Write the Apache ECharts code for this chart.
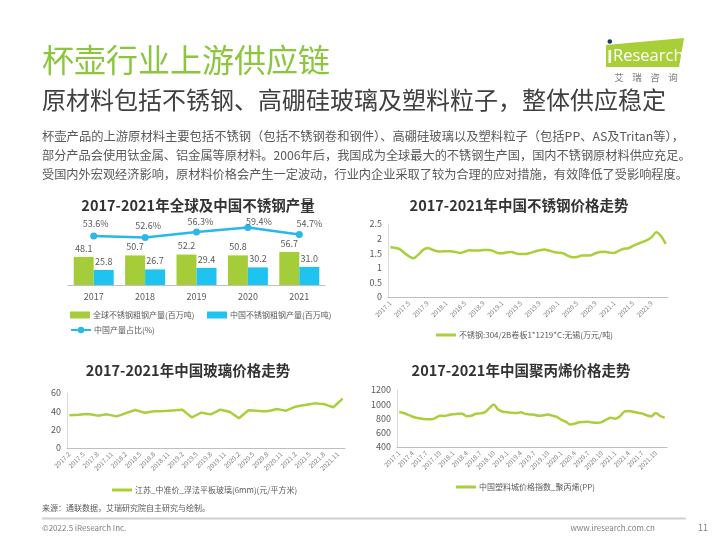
<!DOCTYPE html>
<html><head><meta charset="utf-8">
<script src="https://cdn.jsdelivr.net/npm/echarts@6/dist/echarts.min.js"></script>
<style>html,body{margin:0;padding:0;background:#fff}#c{width:720px;height:540px}</style>
</head><body><div id="c"></div>
<script>
// ---- data ----
const years = ['2017','2018','2019','2020','2021'];
const globalOutput = [48.1, 50.7, 52.2, 50.8, 56.7];
const chinaOutput = [25.8, 26.7, 29.4, 30.2, 31.0];
const chinaShare = [53.6, 52.6, 56.3, 59.4, 54.7];

const monthCats = [
 '2017.1','2017.2','2017.3','2017.4','2017.5','2017.6','2017.7','2017.8','2017.9','2017.10','2017.11','2017.12',
 '2018.1','2018.2','2018.3','2018.4','2018.5','2018.6','2018.7','2018.8','2018.9','2018.10','2018.11','2018.12',
 '2019.1','2019.2','2019.3','2019.4','2019.5','2019.6','2019.7','2019.8','2019.9','2019.10','2019.11','2019.12',
 '2020.1','2020.2','2020.3','2020.4','2020.5','2020.6','2020.7','2020.8','2020.9','2020.10','2020.11','2020.12',
 '2021.1','2021.2','2021.3','2021.4','2021.5','2021.6','2021.7','2021.8','2021.9','2021.10','2021.11','2021.12'
];
const glassCats = monthCats.slice(1);

const steelPrice = [
 1.70,1.68,1.64,1.51,1.39,1.33,1.45,1.61,1.68,1.62,
 1.57,1.56,1.57,1.57,1.54,1.51,1.56,1.60,1.59,1.59,
 1.61,1.61,1.58,1.51,1.50,1.53,1.54,1.49,1.47,1.47,
 1.51,1.56,1.60,1.63,1.59,1.54,1.52,1.50,1.42,1.36,
 1.37,1.42,1.42,1.43,1.50,1.54,1.55,1.52,1.51,1.59,
 1.65,1.67,1.75,1.82,1.88,1.95,2.05,2.22,2.09,1.82
];
const glassPrice = [
 35.6,36.0,36.4,36.9,37.1,36.2,35.3,36.0,36.7,35.6,
 34.5,36.2,38.0,39.8,41.5,40.0,38.5,39.3,40.0,40.1,
 40.3,40.6,41.0,41.4,41.8,37.5,33.3,36.0,38.6,37.6,
 36.7,39.2,41.8,40.7,39.6,36.0,32.4,36.8,41.1,40.8,
 40.5,40.2,40.0,41.2,42.5,41.6,40.7,42.9,45.1,46.0,
 46.9,47.8,48.7,48.3,48.0,46.2,44.4,49.1,53.8
];
const ppIndex = [
 892,878,850,825,806,796,790,788,806,840,
 836,850,860,866,866,832,838,866,872,885,
 945,995,925,895,888,880,876,886,865,856,
 852,838,846,856,840,822,785,755,715,728,
 748,752,753,745,742,750,785,810,798,828,
 895,905,894,880,868,845,830,878,835,812
];

// ---- styles ----
const FONT = '"Noto Sans CJK SC","Noto Sans",sans-serif';
const GREEN = '#A5CD39';
const BLUE = '#1FC3EF';
const CYAN = '#2BB7E9';
const LINEG = '#A9CF3A';
const AX = '#BFBFBF';
const TXT = '#595959';
const shareLabelOffsets = [[2,0],[3,0],[4,2],[11,6],[10,1]];

const chart = echarts.init(document.getElementById('c'));

function lineX(gi, cats, interval){
  return {type:'category', gridIndex:gi, data:cats, boundaryGap:true,
    axisLine:{lineStyle:{color:AX}}, axisTick:{show:false},
    axisLabel:{rotate:45, fontSize:6.5, color:'#7F7F7F', interval:interval, margin:5, fontFamily:FONT}};
}
function lineY(gi, min, max, itv){
  return {type:'value', gridIndex:gi, min:min, max:max, interval:itv,
    axisLine:{show:true, lineStyle:{color:'#D9D9D9'}}, axisTick:{show:false}, splitLine:{show:false},
    axisLabel:{fontSize:9, color:TXT, margin:6, fontFamily:FONT, formatter:v=>String(v)}};
}
function txt(x,y,t,size,fill,extra){
  return {type:'text', x:x, y:y, style:Object.assign({text:t, fontSize:size, fill:fill, fontFamily:FONT, textVerticalAlign:'middle'}, extra||{})};
}
function legendAt(left, top, name, icon, w, h){
  const l = {left:left, top:top, data:[name], itemWidth:w, itemHeight:h, itemGap:0,
    textStyle:{fontSize:8, color:TXT, fontFamily:FONT, padding:[0,0,0,-2]}, padding:0, selectedMode:false};
  if (icon) l.icon = icon;
  return l;
}

const option = {
  animation:false,
  textStyle:{fontFamily:FONT},
  grid:[
    {left:68, right:395, top:215, bottom:255},
    {left:388, right:52, top:224, bottom:243},
    {left:67, right:375, top:393, bottom:92},
    {left:397, right:53, top:390, bottom:93}
  ],
  legend:[
    legendAt(70, 311, '全球不锈钢粗钢产量(百万吨)', 'rect', 20, 7),
    legendAt(207, 311, '中国不锈钢粗钢产量(百万吨)', 'rect', 20, 7),
    legendAt(70, 326, '中国产量占比(%)', null, 20, 8),
    legendAt(436, 331, '不锈钢:304/2B卷板1*1219*C:无锡(万元/吨)', 'rect', 20, 3),
    legendAt(112, 486, '江苏_中准价_浮法平板玻璃(6mm)(元/平方米)', 'rect', 20, 3),
    legendAt(456, 483, '中国塑料城价格指数_聚丙烯(PP)', 'rect', 20, 3)
  ],
  xAxis:[
    {type:'category', gridIndex:0, data:years, axisLine:{lineStyle:{color:AX}}, axisTick:{show:false},
      axisLabel:{fontSize:9, color:TXT, margin:7, fontFamily:FONT}},
    lineX(1, monthCats, 3),
    lineX(2, glassCats, 2),
    lineX(3, monthCats, 2)
  ],
  yAxis:[
    {type:'value', gridIndex:0, min:0, max:120, show:false, splitLine:{show:false}},
    {type:'value', gridIndex:0, min:20, max:68, show:false, splitLine:{show:false}},
    lineY(1, 0, 2.5, 0.5),
    lineY(2, 0, 60, 20),
    lineY(3, 400, 1200, 200)
  ],
  series:[
    {name:'全球不锈钢粗钢产量(百万吨)', type:'bar', xAxisIndex:0, yAxisIndex:0, data:globalOutput,
      barWidth:20, barGap:'0%', itemStyle:{color:GREEN},
      label:{show:true, position:'top', fontSize:9, color:TXT, distance:4}},
    {name:'中国不锈钢粗钢产量(百万吨)', type:'bar', xAxisIndex:0, yAxisIndex:0, data:chinaOutput,
      barWidth:20, barGap:'0%', itemStyle:{color:BLUE},
      label:{show:true, position:'top', fontSize:9, color:TXT, distance:4, formatter:p=>p.value.toFixed(1)}},
    {name:'中国产量占比(%)', type:'line', xAxisIndex:0, yAxisIndex:1,
      data:chinaShare.map((v,i)=>({value:v, label:{offset:shareLabelOffsets[i]}})),
      symbol:'circle', symbolSize:7, lineStyle:{color:CYAN, width:2.5}, itemStyle:{color:CYAN},
      label:{show:true, position:'top', fontSize:9, color:TXT, distance:4, formatter:'{c}%'}},
    {name:'不锈钢:304/2B卷板1*1219*C:无锡(万元/吨)', type:'line', xAxisIndex:1, yAxisIndex:2, data:steelPrice,
      symbol:'none', smooth:0.3, lineStyle:{color:LINEG, width:2.5}, itemStyle:{color:LINEG}},
    {name:'江苏_中准价_浮法平板玻璃(6mm)(元/平方米)', type:'line', xAxisIndex:2, yAxisIndex:3, data:glassPrice,
      symbol:'none', lineStyle:{color:LINEG, width:2.5}, itemStyle:{color:LINEG}},
    {name:'中国塑料城价格指数_聚丙烯(PP)', type:'line', xAxisIndex:3, yAxisIndex:4, data:ppIndex,
      symbol:'none', smooth:0.3, lineStyle:{color:LINEG, width:2.5}, itemStyle:{color:LINEG}}
  ],
  graphic:[
    txt(42, 60, '杯壶行业上游供应链', 32, '#8CC63F'),
    txt(42, 100, '原材料包括不锈钢、高硼硅玻璃及塑料粒子，整体供应稳定', 24, '#404040'),
    txt(42, 136, '杯壶产品的上游原材料主要包括不锈钢（包括不锈钢卷和钢件）、高硼硅玻璃以及塑料粒子（包括PP、AS及Tritan等），', 12.3, TXT),
    txt(42, 155, '部分产品会使用钛金属、铝金属等原材料。2006年后，我国成为全球最大的不锈钢生产国，国内不锈钢原材料供应充足。', 12.2, TXT),
    txt(42, 174, '受国内外宏观经济影响，原材料价格会产生一定波动，行业内企业采取了较为合理的应对措施，有效降低了受影响程度。', 12.2, TXT),
    txt(198, 205, '2017-2021年全球及中国不锈钢产量', 14.5, '#333333', {textAlign:'center', fontWeight:'bold'}),
    txt(519, 205, '2017-2021年中国不锈钢价格走势', 14.5, '#333333', {textAlign:'center', fontWeight:'bold'}),
    txt(188, 370, '2017-2021年中国玻璃价格走势', 14.5, '#333333', {textAlign:'center', fontWeight:'bold'}),
    txt(521, 370, '2017-2021年中国聚丙烯价格走势', 14.5, '#333333', {textAlign:'center', fontWeight:'bold'}),
    // logo
    {type:'polygon', shape:{points:[[606,45],[684,38],[679,67],[606,67]]}, style:{fill:'#A8CF38'}},
    {type:'rect', shape:{x:608.5, y:50, width:2.6, height:13}, style:{fill:'#ffffff'}},
    {type:'circle', shape:{cx:609.8, cy:41.5, r:2.3}, style:{fill:'#1F3864'}},
    txt(613, 56.5, 'Research', 16.5, '#ffffff', {fontFamily:'"Open Sans",sans-serif'}),
    txt(646, 77, '艾    瑞    咨    询', 9.5, '#808080', {textAlign:'center'}),
    // footer
    txt(42, 508, '来源：通联数据，艾瑞研究院自主研究与绘制。', 8, TXT),
    {type:'line', shape:{x1:42, y1:518.5, x2:686, y2:518.5}, style:{stroke:'#D0D0D0', lineWidth:2}},
    txt(42, 528, '©2022.5 iResearch Inc.', 8, '#7F7F7F'),
    txt(655, 528, 'www.iresearch.com.cn', 8, '#7F7F7F', {textAlign:'right'}),
    txt(703, 528, '11', 9, '#7F7F7F', {textAlign:'center'})
  ]
};
chart.setOption(option);
</script>
</body></html>
